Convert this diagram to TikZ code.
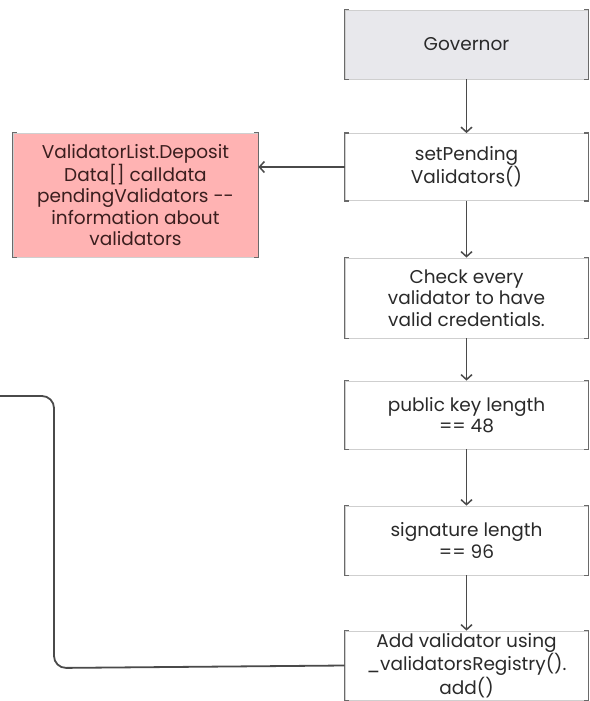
\documentclass[tikz,border=0pt]{standalone}
\usepackage{fontspec}
\setmainfont{Poppins}
\usetikzlibrary{arrows.meta}
\definecolor{edgegray}{HTML}{CFCFCF}
\definecolor{sidegray}{HTML}{6A6A6A}
\definecolor{linegray}{HTML}{4A4A4A}
\definecolor{govfill}{HTML}{E8E8EC}
\definecolor{notefill}{HTML}{FFB3B3}
\definecolor{notetext}{HTML}{3A1E1E}
\definecolor{boxtext}{HTML}{2A2A2A}
\tikzset{
  stepbox/.style={draw=edgegray, line width=0.8pt, fill=white, minimum width=243pt,
    align=center, text=boxtext, font=\fontsize{18.5}{21.5}\selectfont, inner sep=0pt},
  govbox/.style={stepbox, fill=govfill},
  notebox/.style={stepbox, fill=notefill, minimum width=245pt, text=notetext},
  bracketside/.style={draw=sidegray, line width=1.6pt},
  flow/.style={draw=linegray, line width=1.7pt, -{Straight Barb[length=5pt,width=11pt,line width=1.5pt]}},
  link/.style={draw=linegray, line width=1.8pt, rounded corners=12pt}
}
\newcommand{\brackets}[1]{%
  \draw[bracketside] ([xshift=4pt]#1.north west) -- (#1.north west) -- (#1.south west) -- ([xshift=4pt]#1.south west);
  \draw[bracketside] ([xshift=-4pt]#1.north east) -- (#1.north east) -- (#1.south east) -- ([xshift=-4pt]#1.south east);
}
\begin{document}
\begin{tikzpicture}[x=1pt,y=-1pt]
  \useasboundingbox (0,0) rectangle (589,701);

  % main column of steps
  \node[govbox, minimum height=69pt] (gov) at (466.5,44.5) {Governor};
  \node[stepbox, minimum height=67pt] (set) at (466.5,167) {setPending\\Validators()};
  \node[stepbox, minimum height=80pt] (check) at (466.5,298) {Check every\\validator to have\\valid credentials.};
  \node[stepbox, minimum height=68pt] (pk) at (466.5,415) {public key length\\== 48};
  \node[stepbox, minimum height=69pt] (sig) at (466.5,540.5) {signature length\\== 96};
  \node[stepbox, minimum height=69pt] (add) at (466.5,665.5) {Add validator using\\\_validatorsRegistry().\\add()};

  % input data note
  \node[notebox, minimum height=124pt] (data) at (135.5,195) {ValidatorList.Deposit\\Data[] calldata\\pendingValidators -{}-\\information about\\validators};

  \foreach \n in {gov,set,check,pk,sig,add,data} {\brackets{\n}}

  % connectors
  \draw[flow] (gov) -- (set);
  \draw[flow] (set) -- (check);
  \draw[flow] (check) -- (pk);
  \draw[flow] (pk) -- (sig);
  \draw[flow] (sig) -- (add);
  \draw[flow] (set.west) -- (set.west -| data.east);

  \coordinate (loopend) at (0,396);
  \draw[link] (add.west) -- (54,668) -- (54,396) -- (loopend);
\end{tikzpicture}
\end{document}
